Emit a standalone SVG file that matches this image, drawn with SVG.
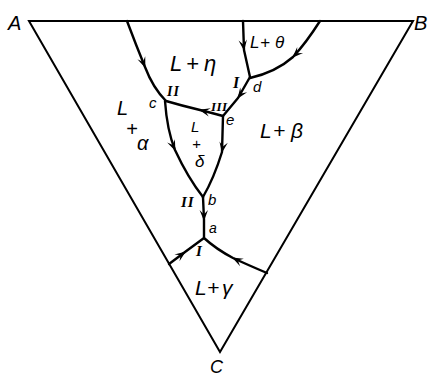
<svg xmlns="http://www.w3.org/2000/svg" width="431" height="377" viewBox="0 0 431 377">
<defs>
<marker id="arr" viewBox="-11 -5 13 10" markerWidth="13" markerHeight="10" markerUnits="userSpaceOnUse" orient="auto" refX="0" refY="0">
<path d="M1,0 L-10,-4.2 L-5.5,0 L-10,4.2 Z" fill="#000"/>
</marker>
<style>
.edge{fill:none;stroke:#000;stroke-width:2.4;stroke-linecap:round;stroke-linejoin:round;marker-mid:url(#arr)}
.tri{fill:none;stroke:#000;stroke-width:2}
.t{font-family:"Liberation Sans",Arial,sans-serif;font-style:italic;fill:#000}
.r{font-family:"Liberation Serif","Times New Roman",serif;font-style:italic;font-weight:bold;fill:#000}
</style>
</defs>
<rect width="431" height="377" fill="#fff"/>
<g id="triangle">
<polygon class="tri" points="29,21 413,21 220,352"/>
</g>
<g id="connectors">
<path class="edge" d="M127,21 Q136,45 145,67 Q153,88 166,101"/>
<path class="edge" d="M243,21 L244,50 L250,77"/>
<path class="edge" d="M320,21 Q306,43 293,57 Q276,72 250,78"/>
<path class="edge" d="M250,77 L238,98 L223,116"/>
<path class="edge" d="M223,116 Q212,113 200,110 Q183,106 166,101"/>
<path class="edge" d="M165,101 Q167,130 175,150 Q188,178 203,197"/>
<path class="edge" d="M223,116 L222,152 Q214,178 203,197"/>
<path class="edge" d="M203,197 L204,220 L204,237"/>
<path class="edge" d="M169,264 L185,252 L204,238"/>
<path class="edge" d="M267,273 Q248,265 233,258 Q216,249 204,238"/>
</g>
<g id="vertices">
<text class="t" x="8" y="30" font-size="20">A</text>
<text class="t" x="414" y="30" font-size="20">B</text>
<text class="t" x="210" y="373" font-size="18">C</text>
</g>
<g id="regions">
<text class="t" font-size="22" y="71"><tspan x="170">L</tspan><tspan x="186">+</tspan><tspan x="204">η</tspan></text>
<text class="t" font-size="17" y="48"><tspan x="250">L</tspan><tspan x="260">+</tspan><tspan x="275">θ</tspan></text>
<text class="t" font-size="21" y="138"><tspan x="260">L</tspan><tspan x="273">+</tspan><tspan x="291">β</tspan></text>
<text class="t" font-size="21" y="295"><tspan x="195">L</tspan><tspan x="207">+</tspan><tspan x="222">γ</tspan></text>
<text class="t" font-size="20" x="117" y="115">L</text>
<text class="t" font-size="20" x="126" y="136">+</text>
<text class="t" font-size="20" x="137" y="150">α</text>
<text class="t" font-size="15" x="191" y="132">L</text>
<text class="t" font-size="15" x="192" y="149">+</text>
<text class="t" font-size="17" x="195" y="167">δ</text>
</g>
<g id="points">
<text class="t" font-size="15" x="149" y="108">c</text>
<text class="t" font-size="15" x="253" y="92">d</text>
<text class="t" font-size="15" x="226" y="125">e</text>
<text class="t" font-size="15" x="208" y="205">b</text>
<text class="t" font-size="14" x="209" y="233">a</text>
<text class="r" font-size="16" x="233" y="88">I</text>
<text class="r" font-size="14" x="167" y="96" letter-spacing="1">II</text>
<text class="r" font-size="13" x="211" y="111" letter-spacing="0.5">III</text>
<text class="r" font-size="15" x="181" y="207" letter-spacing="1">II</text>
<text class="r" font-size="15" x="196" y="256">I</text>
</g>
</svg>
